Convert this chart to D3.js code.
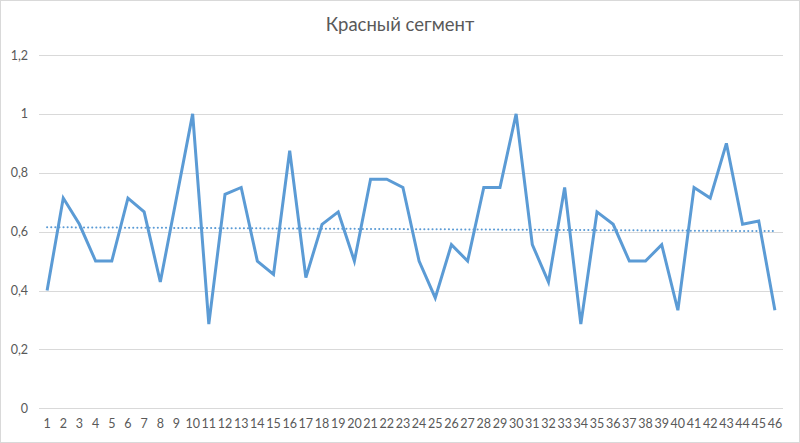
<!DOCTYPE html>
<html><head><meta charset="utf-8">
<script src="https://cdn.jsdelivr.net/npm/d3@7"></script>
<style>
body{margin:0;background:#fff;}
svg{display:block;}
text{font-family:Lato,"Open Sans",sans-serif;fill:#595959;}
</style></head>
<body><svg id="c" width="800" height="443"></svg>
<script>
const title = "Красный сегмент";
const categories = d3.range(1, 47).map(String);
const values = [0.4,0.714,0.625,0.5,0.5,0.714,0.667,0.429,0.714,1,
 0.286,0.727,0.75,0.5,0.455,0.875,0.444,0.625,0.667,0.5,
 0.778,0.778,0.75,0.5,0.375,0.556,0.5,0.75,0.75,1,
 0.556,0.429,0.75,0.286,0.667,0.625,0.5,0.5,0.556,0.333,
 0.75,0.714,0.9,0.625,0.636,0.333];
const yTicks = [0,0.2,0.4,0.6,0.8,1,1.2];
const yTickLabels = ["0","0,2","0,4","0,6","0,8","1","1,2"];

(function(){
const svg = d3.select("#c");
svg.append("rect").attr("x",0.5).attr("y",0.5).attr("width",799).attr("height",442)
  .attr("fill","#fff").attr("stroke","#d9d9d9");

const pL=39, pR=783, pT=55, pB=408.3;
const x = d3.scaleBand().domain(categories).range([pL,pR]).padding(0);
const y = d3.scaleLinear().domain([0,1.2]).range([pB,pT]);

svg.append("g").selectAll("line").data(yTicks).join("line")
  .attr("x1",pL).attr("x2",pR)
  .attr("y1",d=>Math.round(y(d))+0.5).attr("y2",d=>Math.round(y(d))+0.5)
  .attr("stroke","#d9d9d9").attr("stroke-width",1);

const yAxis = d3.axisLeft(y).tickValues(yTicks).tickFormat((d,i)=>yTickLabels[i]).tickSize(0).tickPadding(0);
const gy = svg.append("g").attr("transform",`translate(28,0)`).call(yAxis);
gy.select(".domain").remove();
gy.selectAll("text").attr("font-size",12.5).style("fill","#595959").attr("font-family","Lato, 'Open Sans', sans-serif");

const xAxis = d3.axisBottom(x).tickSize(0).tickPadding(0);
const gx = svg.append("g").attr("transform",`translate(0,419)`).call(xAxis);
gx.select(".domain").remove();
gx.selectAll("text").attr("font-size",12.5).style("fill","#595959").attr("font-family","Lato, 'Open Sans', sans-serif");

const cx = d => x(d) + x.bandwidth()/2;

const n = values.length;
const xs = d3.range(1,n+1);
const mx = d3.mean(xs), my = d3.mean(values);
const slope = d3.sum(xs.map((v,i)=>(v-mx)*(values[i]-my))) / d3.sum(xs.map(v=>(v-mx)*(v-mx)));
const icpt = my - slope*mx;
svg.append("line")
  .attr("x1",cx(categories[0])).attr("x2",cx(categories[n-1]))
  .attr("y1",y(icpt+slope*1)).attr("y2",y(icpt+slope*n))
  .attr("stroke","#5B9BD5").attr("stroke-width",2)
  .attr("stroke-dasharray","0.1 4").attr("stroke-linecap","round");

const line = d3.line().x((d,i)=>cx(categories[i])).y(d=>y(d));
svg.append("path").datum(values).attr("d",line)
  .attr("fill","none").attr("stroke","#5B9BD5").attr("stroke-width",3)
  .attr("stroke-linejoin","miter").attr("stroke-miterlimit",4).attr("stroke-linecap","butt");

svg.append("text").attr("x",400).attr("y",31).attr("text-anchor","middle")
  .attr("font-size",18.5).style("fill","#595959").text(title);
})();
</script></body></html>
